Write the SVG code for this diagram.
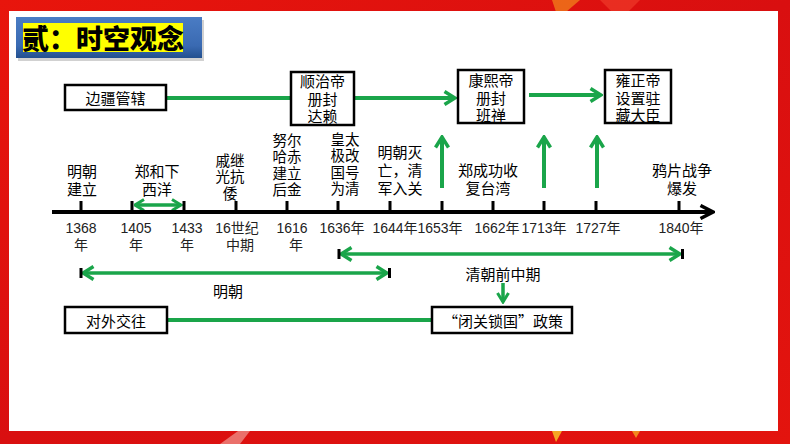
<svg xmlns="http://www.w3.org/2000/svg" width="794" height="447" viewBox="0 0 794 447">
<style>
  .t { font-family: "Liberation Sans", "Noto Sans CJK SC", sans-serif; font-size: 15px; fill: #000; text-anchor: middle; }
  .s { font-family: "Liberation Sans", "Noto Sans CJK SC", sans-serif; font-size: 14.5px; fill: #000; text-anchor: middle; }
  .y { font-family: "Liberation Sans", "Noto Sans CJK SC", sans-serif; font-size: 14px; fill: #222; text-anchor: middle; }
  .fw { font-family: "Noto Sans CJK SC", sans-serif; font-feature-settings: "fwid"; }
  .box { fill: #fff; stroke: #000; stroke-width: 2.5; }
  .g { stroke: #1aa54a; stroke-width: 4; fill: none; }
  .g3 { stroke: #1aa54a; stroke-width: 3.5; fill: none; }
  .tick { fill: #000; }
</style>
<defs>
  <linearGradient id="red" x1="0" y1="0" x2="1" y2="1">
    <stop offset="0" stop-color="#e8150c"/>
    <stop offset="0.5" stop-color="#d90f10"/>
    <stop offset="1" stop-color="#e3140e"/>
  </linearGradient>
  <linearGradient id="blue" x1="0" y1="0" x2="0" y2="1">
    <stop offset="0" stop-color="#4a7cc4"/>
    <stop offset="0.7" stop-color="#3a6ab2"/>
    <stop offset="1" stop-color="#23508f"/>
  </linearGradient>
  <marker id="ah" markerUnits="userSpaceOnUse" markerWidth="14" markerHeight="16" viewBox="0 0 14 16" refX="12" refY="8" orient="auto-start-reverse">
    <path d="M1.5,1.5 L12,8 L1.5,14.5" fill="none" stroke="#1aa54a" stroke-width="3.5"/>
  </marker>
  <marker id="ahs" markerUnits="userSpaceOnUse" markerWidth="12" markerHeight="14" viewBox="0 0 12 14" refX="10.5" refY="7" orient="auto-start-reverse">
    <path d="M1.5,1.5 L10.5,7 L1.5,12.5" fill="none" stroke="#1aa54a" stroke-width="3"/>
  </marker>
  <marker id="ak" markerUnits="userSpaceOnUse" markerWidth="16" markerHeight="16" viewBox="0 0 16 16" refX="14" refY="8" orient="auto">
    <path d="M1.5,1.5 L14,8 L1.5,14.5" fill="none" stroke="#000" stroke-width="3.5"/>
  </marker>
</defs>

<!-- frame -->
<rect x="0" y="0" width="794" height="447" fill="#fff"/>
<rect x="0" y="0" width="790" height="444" fill="url(#red)"/>
<polygon points="552,0 580,0 566,12 556,12" fill="#f07a1a" opacity="0.8"/>
<polygon points="600,0 640,0 628,12 612,12" fill="#ee3b2a" opacity="0.7"/>
<polygon points="220,444 238,431 250,431 240,444" fill="#f3b0a8" opacity="0.6"/>
<polygon points="552,431 562,431 556,442" fill="#f5a623"/>
<polygon points="632,431 640,431 636,438" fill="#f5a623" opacity="0.8"/>
<rect x="9" y="11" width="769" height="420" fill="#fff"/>

<!-- title -->
<g id="title">
  <rect x="18" y="20" width="186" height="41" fill="#000" opacity="0.18"/>
  <rect x="16" y="17" width="186" height="41" fill="url(#blue)"/>
  <rect x="23" y="23" width="160" height="29" fill="#ffff00"/>
  <text x="103" y="49" font-family="Noto Sans CJK SC, sans-serif" font-size="27" font-weight="900" text-anchor="middle" fill="#000">贰：时空观念</text>
</g>

<!-- connectors -->
<g id="connectors">
  <line class="g" x1="166" y1="98" x2="291" y2="98"/>
  <line class="g" x1="354" y1="98" x2="455" y2="98" marker-end="url(#ah)"/>
  <line class="g" x1="529" y1="95" x2="601" y2="95" marker-end="url(#ah)"/>
  <line class="g" x1="442" y1="188" x2="442" y2="137" marker-end="url(#ah)"/>
  <line class="g" x1="544" y1="188" x2="544" y2="137" marker-end="url(#ah)"/>
  <line class="g" x1="597" y1="188" x2="597" y2="137" marker-end="url(#ah)"/>
  <line class="g3" x1="135" y1="205" x2="181" y2="205" marker-start="url(#ahs)" marker-end="url(#ahs)"/>
  <line x1="52" y1="212" x2="713" y2="212" stroke="#000" stroke-width="4" marker-end="url(#ak)"/>
  <line class="g3" x1="341" y1="254" x2="680" y2="254" marker-start="url(#ah)" marker-end="url(#ah)"/>
  <rect class="tick" x="337.5" y="249" width="3" height="10"/>
  <rect class="tick" x="681" y="249" width="3" height="10"/>
  <line class="g3" x1="83" y1="273" x2="387" y2="273" marker-start="url(#ah)" marker-end="url(#ah)"/>
  <rect class="tick" x="79.5" y="268" width="3" height="10"/>
  <rect class="tick" x="388" y="268" width="3" height="10"/>
  <line class="g3" x1="503" y1="283" x2="503" y2="302" marker-end="url(#ahs)"/>
  <line class="g" x1="167" y1="320" x2="432" y2="320"/>
</g>

<!-- ticks -->
<g id="ticks">
  <rect class="tick" x="79.5" y="201" width="3" height="11"/>
  <rect class="tick" x="130.5" y="201" width="3" height="11"/>
  <rect class="tick" x="182.5" y="201" width="3" height="11"/>
  <rect class="tick" x="234.5" y="201" width="3" height="11"/>
  <rect class="tick" x="285.5" y="201" width="3" height="11"/>
  <rect class="tick" x="336.5" y="201" width="3" height="11"/>
  <rect class="tick" x="388.5" y="201" width="3" height="11"/>
  <rect class="tick" x="440.5" y="201" width="3" height="11"/>
  <rect class="tick" x="491.5" y="201" width="3" height="11"/>
  <rect class="tick" x="542.5" y="201" width="3" height="11"/>
  <rect class="tick" x="594.5" y="201" width="3" height="11"/>
  <rect class="tick" x="677.5" y="201" width="3" height="11"/>
</g>

<!-- boxes -->
<g id="n-bianjiang">
  <rect class="box" x="65" y="85" width="101" height="25"/>
  <text class="t" x="115.5" y="104">边疆管辖</text>
</g>
<g id="n-shunzhi">
  <rect class="box" x="291" y="72" width="63" height="53"/>
  <text class="t" x="322.5" y="87">顺治帝<tspan x="322.5" dy="18">册封</tspan><tspan x="322.5" dy="17">达赖</tspan></text>
</g>
<g id="n-kangxi">
  <rect class="box" x="458" y="70" width="66" height="53"/>
  <text class="t" x="491" y="86">康熙帝<tspan x="491" dy="18">册封</tspan><tspan x="491" dy="17">班禅</tspan></text>
</g>
<g id="n-yongzheng">
  <rect class="box" x="605" y="70" width="66" height="53"/>
  <text class="t" x="638" y="86">雍正帝<tspan x="638" dy="18">设置驻</tspan><tspan x="638" dy="17">藏大臣</tspan></text>
</g>
<g id="n-duiwai">
  <rect class="box" x="65" y="307" width="102" height="26"/>
  <text class="t" x="116" y="327">对外交往</text>
</g>
<g id="n-biguan">
  <rect class="box" x="432" y="307" width="140" height="26"/>
  <text class="t" x="503" y="327"><tspan class="fw">“</tspan>闭关锁国<tspan class="fw">”</tspan>政策</text>
</g>

<!-- event labels -->
<g id="events">
  <text class="t" x="82" y="177">明朝<tspan x="82" dy="17.5">建立</tspan></text>
  <text class="t" x="157" y="177">郑和下<tspan x="157" dy="17.5">西洋</tspan></text>
  <text class="s" x="230" y="166">戚继<tspan x="230" dy="16.3">光抗</tspan><tspan x="230" dy="16.3">倭</tspan></text>
  <text class="s" x="287" y="146">努尔<tspan x="287" dy="16.3">哈赤</tspan><tspan x="287" dy="16.3">建立</tspan><tspan x="287" dy="16.3">后金</tspan></text>
  <text class="s" x="345" y="145">皇太<tspan x="345" dy="16.3">极改</tspan><tspan x="345" dy="16.3">国号</tspan><tspan x="345" dy="16.3">为清</tspan></text>
  <text class="t" x="400" y="158">明朝灭<tspan x="400" dy="18">亡，清</tspan><tspan x="400" dy="18">军入关</tspan></text>
  <text class="t" x="488" y="176">郑成功收<tspan x="488" dy="18">复台湾</tspan></text>
  <text class="t" x="682" y="176">鸦片战争<tspan x="682" dy="18">爆发</tspan></text>
</g>

<!-- year labels -->
<g id="years">
  <text class="y" x="81" y="233">1368<tspan x="81" dy="17">年</tspan></text>
  <text class="y" x="136" y="233">1405<tspan x="136" dy="17">年</tspan></text>
  <text class="y" x="187" y="233">1433<tspan x="187" dy="17">年</tspan></text>
  <text class="y" x="237" y="233">16世纪<tspan x="240" dy="17">中期</tspan></text>
  <text class="y" x="292" y="233">1616<tspan x="296" dy="17">年</tspan></text>
  <text class="y" x="342" y="233">1636年</text>
  <text class="y" x="395" y="233">1644年</text>
  <text class="y" x="440" y="233">1653年</text>
  <text class="y" x="497" y="233">1662年</text>
  <text class="y" x="544" y="233">1713年</text>
  <text class="y" x="598" y="233">1727年</text>
  <text class="y" x="681" y="233">1840年</text>
</g>

<!-- bar labels -->
<g id="bar-labels">
  <text class="t" x="228" y="297">明朝</text>
  <text class="t" x="503" y="280">清朝前中期</text>
</g>
</svg>
